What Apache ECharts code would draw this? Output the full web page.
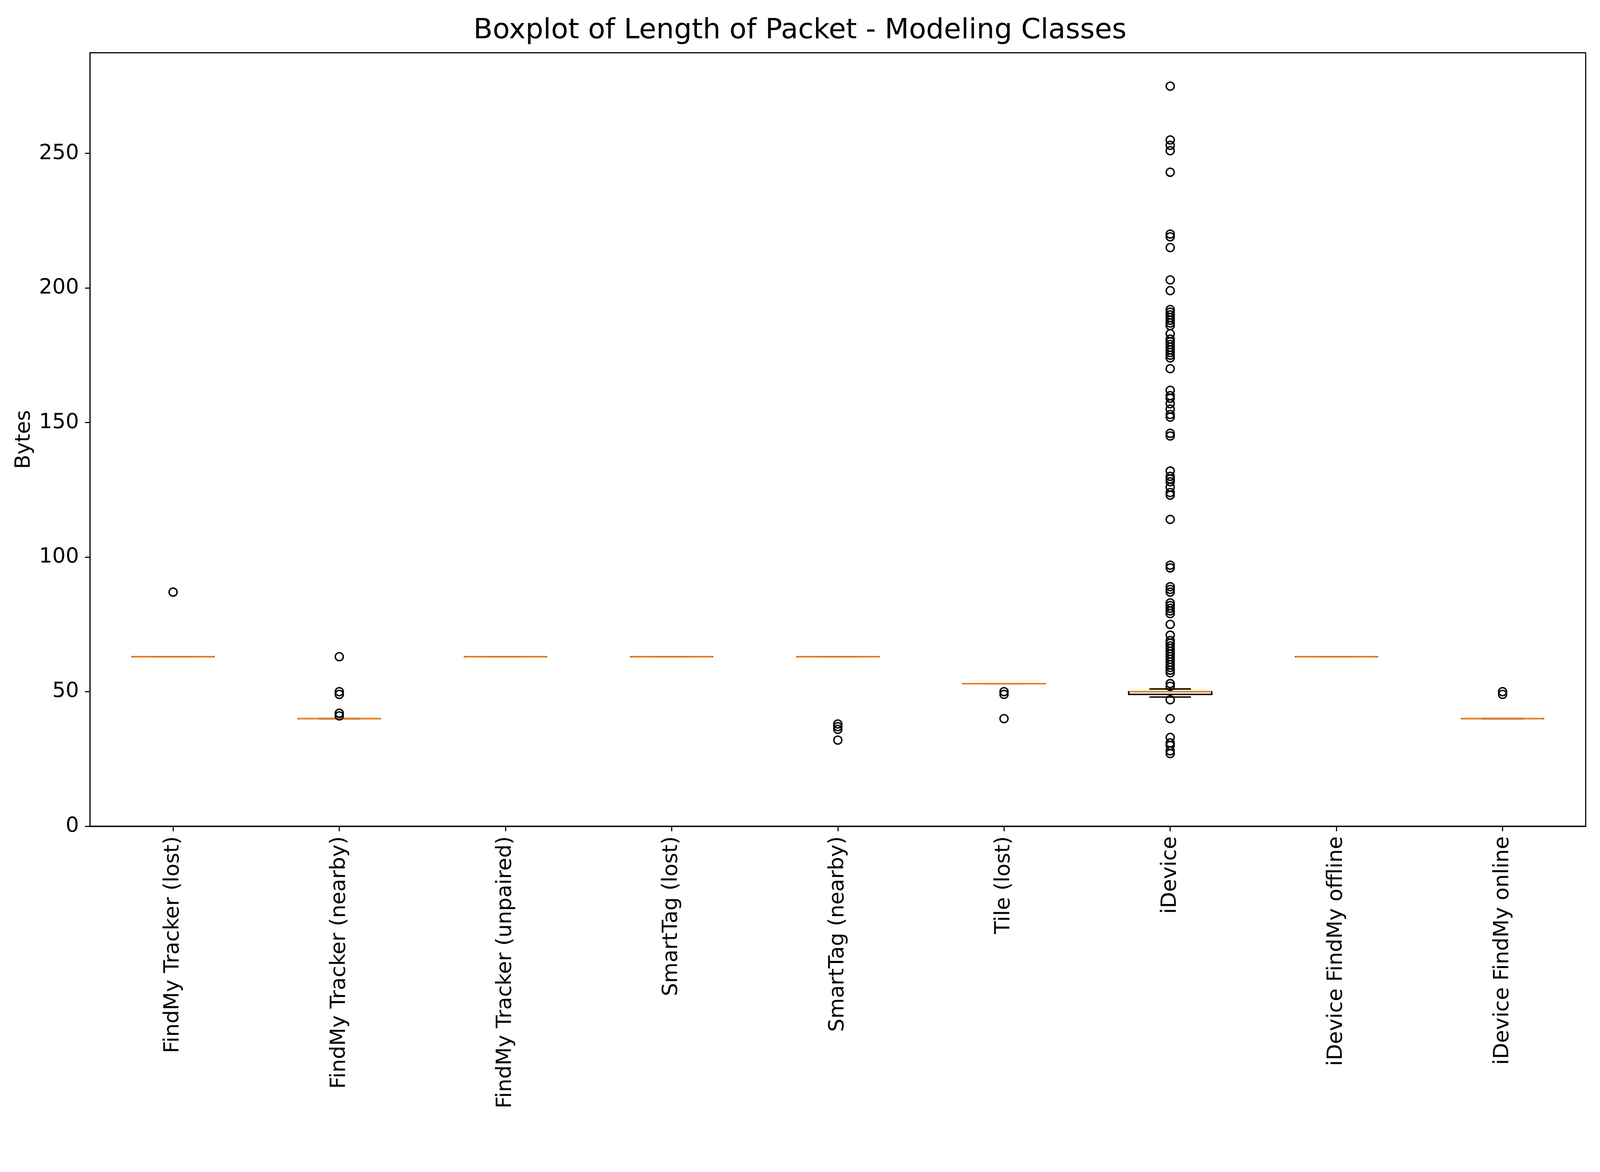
<!DOCTYPE html>
<html>
<head>
<meta charset="utf-8">
<script src="https://cdn.jsdelivr.net/npm/echarts@6/dist/echarts.min.js"></script>
<style>
html,body{margin:0;padding:0;background:#fff;overflow:hidden;}
#chart{width:100vw;height:100vh;}
</style>
</head>
<body>
<div id="chart"></div>
<script>
// ---- data ----
const categories = [
  'FindMy Tracker (lost)',
  'FindMy Tracker (nearby)',
  'FindMy Tracker (unpaired)',
  'SmartTag (lost)',
  'SmartTag (nearby)',
  'Tile (lost)',
  'iDevice',
  'iDevice FindMy offline',
  'iDevice FindMy online'
];
// [lower whisker, Q1, median, Q3, upper whisker]
const boxStats = [
  [63, 63, 63, 63, 63],
  [40, 40, 40, 40, 40],
  [63, 63, 63, 63, 63],
  [63, 63, 63, 63, 63],
  [63, 63, 63, 63, 63],
  [53, 53, 53, 53, 53],
  [48, 49, 50, 50, 51],
  [63, 63, 63, 63, 63],
  [40, 40, 40, 40, 40]
];
const outliersFindMyLost = [87];
const outliersFindMyNearby = [63, 50, 49, 42, 41];
const outliersFindMyUnpaired = [];
const outliersSmartTagLost = [];
const outliersSmartTagNearby = [38, 37, 36, 32];
const outliersTileLost = [50, 49, 40];
const outliersIDevice = [
  275, 255, 253, 251, 243, 220, 219, 215, 203, 199,
  192, 191, 190, 189, 188, 187, 186, 183, 181, 180, 179, 178, 177, 176, 175, 174,
  170, 162, 160, 159, 157, 155, 153, 152, 146, 145,
  132, 130, 129, 128, 126, 124, 123, 114, 97, 96,
  89, 88, 87, 83, 82, 81, 80, 79, 75,
  71, 69, 68, 67, 66, 65, 64, 63, 62, 61, 60, 59, 58, 57,
  53, 52, 47, 40, 33, 31, 30, 28, 27
];
const outliersIDeviceOffline = [];
const outliersIDeviceOnline = [50, 49];
const yTicks = [0, 50, 100, 150, 200, 250];

const outlierLists = [
  outliersFindMyLost, outliersFindMyNearby, outliersFindMyUnpaired,
  outliersSmartTagLost, outliersSmartTagNearby, outliersTileLost,
  outliersIDevice, outliersIDeviceOffline, outliersIDeviceOnline
];

// ---- build series data ----
const boxData = boxStats.map((s, i) => [i].concat(s));
const outlierData = [];
outlierLists.forEach((list, i) => list.forEach(v => outlierData.push([i, v])));

let allVals = [];
boxStats.forEach(s => { allVals.push(s[0], s[4]); });
outlierLists.forEach(l => { allVals = allVals.concat(l); });
const dMax = Math.max.apply(null, allVals);
const dMin = Math.min.apply(null, allVals);
const yMax = dMax + 0.05 * (dMax - dMin);

const el = document.getElementById('chart');
const W = el.clientWidth || 4800;
const H = el.clientHeight || 3000;
const kx = W / 4800, ky = H / 3000, k = Math.min(kx, ky);

const LW = 4.2 * k;
const FONT = 'DejaVu Sans';

function renderBox(params, api) {
  const idx = api.value(0);
  const lo = api.value(1), q1 = api.value(2), med = api.value(3), q3 = api.value(4), hi = api.value(5);
  const bw = api.size([1, 0])[0] * 0.5;
  const cw = bw * 0.5;
  const pLo = api.coord([idx, lo]);
  const pQ1 = api.coord([idx, q1]);
  const pMed = api.coord([idx, med]);
  const pQ3 = api.coord([idx, q3]);
  const pHi = api.coord([idx, hi]);
  const cx = pMed[0];
  const black = { stroke: '#000', lineWidth: LW, fill: null };
  return {
    type: 'group',
    children: [
      { type: 'line', shape: { x1: cx, y1: pQ1[1], x2: cx, y2: pLo[1] }, style: black },
      { type: 'line', shape: { x1: cx, y1: pQ3[1], x2: cx, y2: pHi[1] }, style: black },
      { type: 'line', shape: { x1: cx - cw / 2, y1: pLo[1], x2: cx + cw / 2, y2: pLo[1] }, style: black },
      { type: 'line', shape: { x1: cx - cw / 2, y1: pHi[1], x2: cx + cw / 2, y2: pHi[1] }, style: black },
      { type: 'rect', shape: { x: cx - bw / 2, y: pQ3[1], width: bw, height: pQ1[1] - pQ3[1] },
        style: { stroke: '#000', lineWidth: LW, fill: 'none' } },
      { type: 'line', shape: { x1: cx - bw / 2 + 1, y1: pMed[1], x2: cx + bw / 2 - 1, y2: pMed[1] },
        style: { stroke: '#ff7f0e', lineWidth: LW, fill: null } }
    ]
  };
}

const chart = echarts.init(el, null, { renderer: 'canvas' });
chart.setOption({
  animation: false,
  backgroundColor: '#fff',
  title: {
    text: 'Boxplot of Length of Packet - Modeling Classes',
    left: 'center',
    top: 38 * ky,
    textStyle: { fontFamily: FONT, fontSize: 84 * k, fontWeight: 'normal', color: '#000' }
  },
  grid: {
    left: 270 * kx, right: 43 * kx, top: 135 * ky, bottom: 885 * ky,
    show: true, borderColor: '#000', borderWidth: 3.3 * k, backgroundColor: 'transparent'
  },
  xAxis: {
    type: 'category',
    data: categories,
    boundaryGap: true,
    axisLine: { show: true, lineStyle: { color: '#000', width: 3.3 * k } },
    axisTick: { show: true, alignWithLabel: true, length: 15 * k, lineStyle: { color: '#000', width: 3.3 * k } },
    axisLabel: { rotate: 90, margin: 30 * k, fontFamily: FONT, fontSize: 63 * k, color: '#000', interval: 0 },
    splitLine: { show: false }
  },
  yAxis: {
    type: 'value',
    min: 0,
    max: yMax,
    interval: 50,
    name: 'Bytes',
    nameLocation: 'middle',
    nameRotate: 90,
    nameGap: 148 * kx,
    nameTextStyle: { fontFamily: FONT, fontSize: 63 * k, color: '#000' },
    axisLine: { show: true, lineStyle: { color: '#000', width: 3.3 * k } },
    axisTick: { show: true, length: 15 * k, lineStyle: { color: '#000', width: 3.3 * k } },
    axisLabel: {
      margin: 33 * k, fontFamily: FONT, fontSize: 63 * k, color: '#000',
      showMaxLabel: false,
      formatter: v => (yTicks.indexOf(v) >= 0 ? String(v) : '')
    },
    splitLine: { show: false }
  },
  series: [
    {
      type: 'custom',
      renderItem: renderBox,
      data: boxData,
      encode: { x: 0, y: [1, 2, 3, 4, 5] },
      z: 2
    },
    {
      type: 'scatter',
      data: outlierData,
      symbol: 'circle',
      symbolSize: 24 * k,
      itemStyle: { color: 'rgba(0,0,0,0)', borderColor: '#000', borderWidth: 4.2 * k, opacity: 1 },
      z: 3
    }
  ]
});
</script>
</body>
</html>
